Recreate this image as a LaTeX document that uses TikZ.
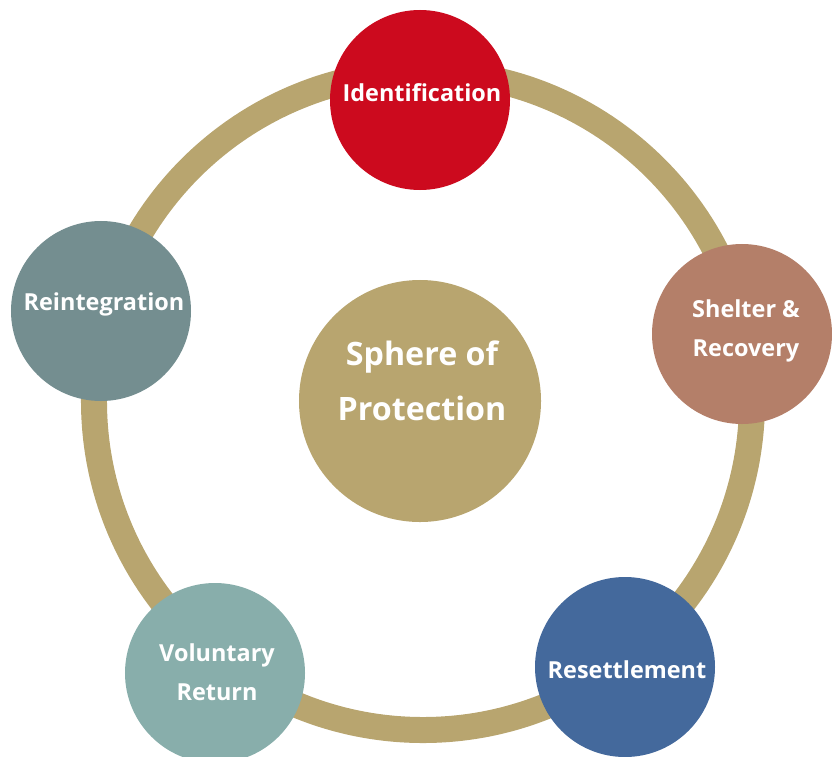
\documentclass[tikz,border=0pt]{standalone}
\usepackage{fontspec}
\setmainfont{Open Sans}

\definecolor{gold}{HTML}{B8A56F}
\definecolor{identred}{HTML}{CC0A1E}
\definecolor{shelterbrown}{HTML}{B47F69}
\definecolor{resettleblue}{HTML}{44699C}
\definecolor{returnteal}{HTML}{88AEAB}
\definecolor{reintgrey}{HTML}{748E90}

\begin{document}
\begin{tikzpicture}[x=0.03cm, y=-0.03cm,
  stage/.style={circle, inner sep=0pt, minimum size=5.4cm},
  stagetext/.style={text=white, align=center,
    font=\bfseries\fontsize{20}{33}\selectfont},
  hub/.style={circle, inner sep=0pt, minimum size=7.26cm, fill=gold},
  hubtext/.style={text=white, align=center,
    font=\bfseries\fontsize{27.5}{47.5}\selectfont}]

\useasboundingbox (0,0) rectangle (832,757);

%% ring
\coordinate (ringc) at (423,401);
\draw[gold, line width=0.78cm] (ringc) circle [radius=9.87cm];

%% centre
\node[hub] (sphere) at (420,401) {};
\node[hubtext] (spheretext) at (422,381) {Sphere of\\Protection};

%% stages round the ring
\node[stage, fill=identred] (ident) at (420,100) {};
\node[stagetext] (identtext) at (422,93) {Identification};

\node[stage, fill=shelterbrown] (shelter) at (742,334) {};
\node[stagetext] (sheltertext) at (746,331) {Shelter \&\\Recovery};

\node[stage, fill=resettleblue] (resettle) at (625,667) {};
\node[stagetext] (resettletext) at (627,670) {Resettlement};

\node[stage, fill=returnteal] (return) at (215,673) {};
\node[stagetext] (returntext) at (217,672) {Voluntary\\Return};

\node[stage, fill=reintgrey] (reint) at (101,311) {};
\node[stagetext] (reinttext) at (104,304) {Reintegration};

\end{tikzpicture}
\end{document}
